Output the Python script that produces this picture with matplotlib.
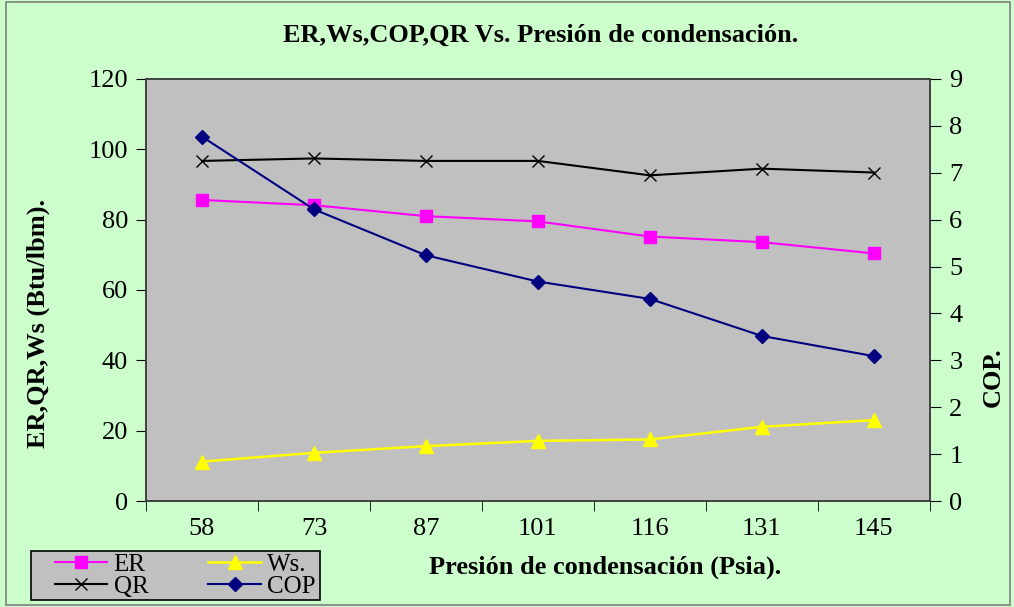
import numpy as np
import matplotlib.pyplot as plt
from matplotlib.patches import Rectangle

# data
presion = ['58', '73', '87', '101', '116', '131', '145']
er = [85.6, 84.1, 81.0, 79.5, 75.2, 73.6, 70.4]
ws = [11.2, 13.7, 15.6, 17.1, 17.5, 21.1, 23.0]
qr = [96.7, 97.4, 96.7, 96.7, 92.6, 94.5, 93.4]
cop = [7.77, 6.22, 5.24, 4.68, 4.31, 3.52, 3.09]

plt.rcParams['font.family'] = ['Liberation Serif', 'DejaVu Serif']

fig = plt.figure(figsize=(10.14, 6.07), dpi=100)
fig.patch.set_facecolor('#CCFFCC')
fig.patches.append(Rectangle((0.006, 0.003), 0.99, 0.994, transform=fig.transFigure,
                             fill=False, edgecolor='#808080', linewidth=1.2))
# legend box drawn separately so the entries can sit with extra left padding
fig.patches.append(Rectangle((0.0306, 0.0115), 0.285, 0.0807, transform=fig.transFigure,
                             facecolor='#C0C0C0', edgecolor='black', linewidth=1.2, zorder=1))

ax = fig.add_axes([0.144, 0.1746, 0.773, 0.6953])
ax.set_facecolor('#C0C0C0')
x = np.arange(len(presion))

l1, = ax.plot(x, er, color='#FF00FF', marker='s', markersize=9, linewidth=1.5, label='ER')
l2, = ax.plot(x, ws, color='#FFFF00', marker='^', markersize=10, linewidth=1.8, label='Ws.')
l3, = ax.plot(x, qr, color='black', marker='x', markersize=9, linewidth=1.5, label='QR')

ax2 = ax.twinx()
l4, = ax2.plot(x, cop, color='#000080', marker='D', markersize=7, linewidth=1.5, label='COP')

ax.set_xlim(-0.5, len(presion) - 0.5)
ax.set_ylim(0, 120)
ax.set_yticks(np.arange(0, 121, 20))
ax2.set_ylim(0, 9)
ax2.set_yticks(np.arange(0, 10, 1))

ax.set_xticks(x)
ax.set_xticklabels(presion)
ax.set_xticks(np.arange(-0.5, len(presion)), minor=True)
ax.tick_params(axis='x', which='major', length=0, labelsize=19, pad=12)
ax.tick_params(axis='x', which='minor', length=7, direction='out')
ax.tick_params(axis='y', labelsize=19, direction='out', length=7, pad=6)
ax2.tick_params(axis='y', labelsize=19, direction='out', length=8, pad=6)

for a in (ax, ax2):
    for s in a.spines.values():
        s.set_color('#404040')
        s.set_linewidth(1.2)

ax.set_ylabel('ER,QR,Ws (Btu/lbm).', fontsize=19, fontweight='bold')
ax.yaxis.set_label_coords(-0.122, 0.42)
ax2.set_ylabel('COP.', fontsize=19, fontweight='bold')
ax2.yaxis.set_label_coords(1.066, 0.294)
fig.text(0.597, 0.066, 'Presión de condensación (Psia).', fontsize=19,
         fontweight='bold', ha='center', va='center')
fig.text(0.533, 0.942, 'ER,Ws,COP,QR Vs. Presión de condensación.', fontsize=19,
         fontweight='bold', ha='center', va='center')

# column-first fill: ER, QR in first column; Ws., COP in second
leg = fig.legend([l1, l3, l2, l4], ['ER', 'QR', 'Ws.', 'COP'], ncol=2,
                 loc='center left', bbox_to_anchor=(0.054, 0.0518), fontsize=18,
                 frameon=False, borderpad=0, handlelength=2.1, columnspacing=2.4,
                 labelspacing=0.0, handletextpad=0.25, borderaxespad=0)
leg.set_zorder(5)

fig.savefig('out.png', dpi=100, facecolor=fig.get_facecolor())
